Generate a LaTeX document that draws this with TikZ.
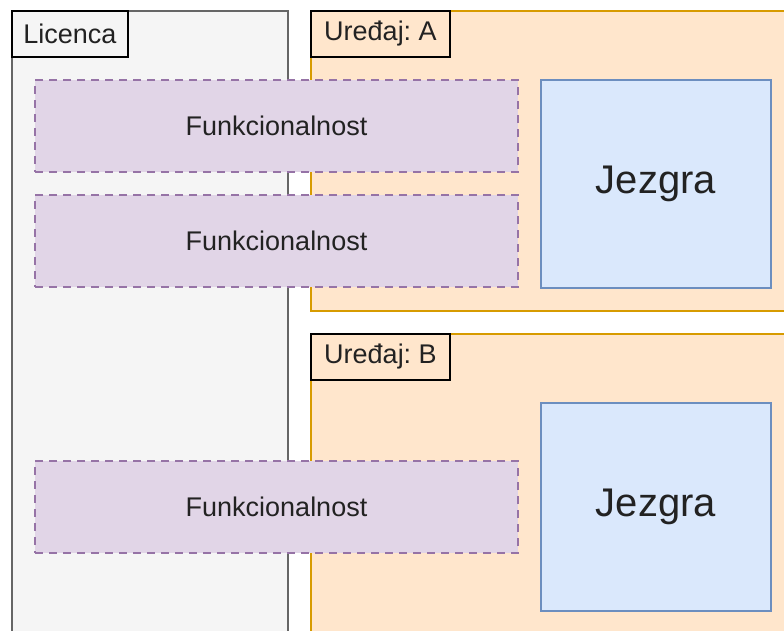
\documentclass[tikz,border=0pt]{standalone}
\usepackage{fontspec}
\setmainfont{Liberation Sans}
\frenchspacing
\definecolor{licfill}{HTML}{F5F5F5}
\definecolor{licline}{HTML}{666666}
\definecolor{devfill}{HTML}{FFE6CC}
\definecolor{devline}{HTML}{D79B00}
\definecolor{funfill}{HTML}{E1D5E7}
\definecolor{funline}{HTML}{9673A6}
\definecolor{corefill}{HTML}{DAE8FC}
\definecolor{coreline}{HTML}{6C8EBF}
\definecolor{txt}{HTML}{222222}
\begin{document}
\begin{tikzpicture}[x=1pt,y=-1pt,
	licbox/.style={draw=licline,fill=licfill,line width=1.5pt,anchor=north west},
	devbox/.style={draw=devline,fill=devfill,line width=2pt,anchor=north west},
	tagbox/.style={draw=black,text=txt,line width=2pt,anchor=north west,inner sep=0pt,font=\fontsize{27}{30}\selectfont},
	funbox/.style={draw=funline,fill=funfill,text=txt,dashed,dash pattern=on 8pt off 6pt,line width=2pt,anchor=north west,inner sep=0pt,minimum width=483pt,minimum height=92pt,font=\fontsize{27}{30}\selectfont},
	corebox/.style={draw=coreline,fill=corefill,text=txt,line width=2pt,anchor=north west,inner sep=0pt,minimum width=230pt,minimum height=208pt,font=\fontsize{40}{44}\selectfont}]
	\useasboundingbox (0,0) rectangle (784,630);
	\clip (0,0) rectangle (784,630);
	% okviri
	\node[licbox,minimum width=276pt,minimum height=700pt] (lic) at (11,10) {};
	\node[devbox,minimum width=600pt,minimum height=300pt] (devA) at (310,10) {};
	\node[devbox,minimum width=600pt,minimum height=400pt] (devB) at (310,333) {};
	% oznake
	\node[tagbox,fill=licfill,minimum width=116pt,minimum height=46pt] (licT) at (lic.north west) {Licenca};
	\node[tagbox,fill=devfill,minimum width=139pt,minimum height=46pt] (devAT) at (devA.north west) {Uređaj: A};
	\node[tagbox,fill=devfill,minimum width=139pt,minimum height=46pt] (devBT) at (devB.north west) {Uređaj: B};
	% funkcionalnosti
	\node[funbox] (fun1) at (34,79) {Funkcionalnost};
	\node[funbox] (fun2) at (34,194) {Funkcionalnost};
	\node[funbox] (fun3) at (34,460) {Funkcionalnost};
	% jezgre
	\node[corebox] (coreA) at (540,79) {Jezgra};
	\node[corebox] (coreB) at (540,402) {Jezgra};
\end{tikzpicture}
\end{document}
